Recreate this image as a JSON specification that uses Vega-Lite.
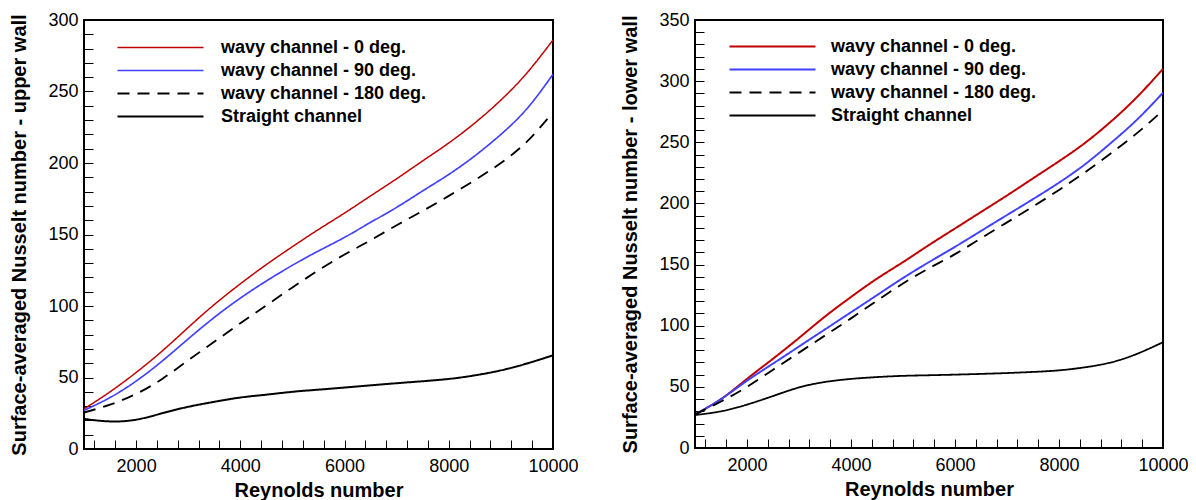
{
  "$schema": "https://vega.github.io/schema/vega-lite/v6.json",
  "background": "white",
  "padding": {"left": 8, "top": 10, "right": 5, "bottom": 0},
  "spacing": 39,
  "config": {
    "font": "Liberation Sans",
    "view": {"stroke": "black", "strokeWidth": 2},
    "axis": {
      "domain": false,
      "grid": false,
      "ticks": true,
      "tickColor": "black",
      "tickSize": -9,
      "labelFont": "Liberation Sans",
      "labelFontSize": 18,
      "labelColor": "black",
      "labelOverlap": false,
      "labelFlush": false,
      "titleFont": "Liberation Sans",
      "titleFontSize": 20,
      "titleFontWeight": "bold",
      "titleColor": "black"
    },
    "legend": {
      "labelFont": "Liberation Sans",
      "labelFontSize": 18,
      "labelFontWeight": "bold",
      "labelColor": "black",
      "labelLimit": 400
    }
  },
  "resolve": {"scale": {"color": "independent", "strokeDash": "independent", "strokeWidth": "independent"}, "legend": {"color": "independent", "strokeDash": "independent", "strokeWidth": "independent"}},
  "datasets": {
    "upper": [
      {"Re": 1000, "s": "wavy channel - 0 deg.", "Nu": 28},
      {"Re": 1500, "s": "wavy channel - 0 deg.", "Nu": 40},
      {"Re": 2000, "s": "wavy channel - 0 deg.", "Nu": 53.5},
      {"Re": 2500, "s": "wavy channel - 0 deg.", "Nu": 68.5},
      {"Re": 3000, "s": "wavy channel - 0 deg.", "Nu": 85},
      {"Re": 3500, "s": "wavy channel - 0 deg.", "Nu": 101},
      {"Re": 4000, "s": "wavy channel - 0 deg.", "Nu": 115.5},
      {"Re": 4500, "s": "wavy channel - 0 deg.", "Nu": 129},
      {"Re": 5000, "s": "wavy channel - 0 deg.", "Nu": 141.5},
      {"Re": 5500, "s": "wavy channel - 0 deg.", "Nu": 153.5},
      {"Re": 6000, "s": "wavy channel - 0 deg.", "Nu": 165},
      {"Re": 6500, "s": "wavy channel - 0 deg.", "Nu": 177},
      {"Re": 7000, "s": "wavy channel - 0 deg.", "Nu": 189},
      {"Re": 7500, "s": "wavy channel - 0 deg.", "Nu": 201.5},
      {"Re": 8000, "s": "wavy channel - 0 deg.", "Nu": 214},
      {"Re": 8500, "s": "wavy channel - 0 deg.", "Nu": 228},
      {"Re": 9000, "s": "wavy channel - 0 deg.", "Nu": 244},
      {"Re": 9500, "s": "wavy channel - 0 deg.", "Nu": 263},
      {"Re": 10000, "s": "wavy channel - 0 deg.", "Nu": 286},
      {"Re": 1000, "s": "wavy channel - 90 deg.", "Nu": 27},
      {"Re": 1500, "s": "wavy channel - 90 deg.", "Nu": 36},
      {"Re": 2000, "s": "wavy channel - 90 deg.", "Nu": 47.5},
      {"Re": 2500, "s": "wavy channel - 90 deg.", "Nu": 61.5},
      {"Re": 3000, "s": "wavy channel - 90 deg.", "Nu": 77},
      {"Re": 3500, "s": "wavy channel - 90 deg.", "Nu": 92},
      {"Re": 4000, "s": "wavy channel - 90 deg.", "Nu": 105.5},
      {"Re": 4500, "s": "wavy channel - 90 deg.", "Nu": 117.5},
      {"Re": 5000, "s": "wavy channel - 90 deg.", "Nu": 128.5},
      {"Re": 5500, "s": "wavy channel - 90 deg.", "Nu": 138.5},
      {"Re": 6000, "s": "wavy channel - 90 deg.", "Nu": 148},
      {"Re": 6500, "s": "wavy channel - 90 deg.", "Nu": 158.5},
      {"Re": 7000, "s": "wavy channel - 90 deg.", "Nu": 169},
      {"Re": 7500, "s": "wavy channel - 90 deg.", "Nu": 180.5},
      {"Re": 8000, "s": "wavy channel - 90 deg.", "Nu": 192},
      {"Re": 8500, "s": "wavy channel - 90 deg.", "Nu": 205},
      {"Re": 9000, "s": "wavy channel - 90 deg.", "Nu": 220},
      {"Re": 9500, "s": "wavy channel - 90 deg.", "Nu": 238},
      {"Re": 10000, "s": "wavy channel - 90 deg.", "Nu": 262},
      {"Re": 1000, "s": "wavy channel - 180 deg.", "Nu": 25.5},
      {"Re": 1500, "s": "wavy channel - 180 deg.", "Nu": 31},
      {"Re": 2000, "s": "wavy channel - 180 deg.", "Nu": 38.5},
      {"Re": 2500, "s": "wavy channel - 180 deg.", "Nu": 49},
      {"Re": 3000, "s": "wavy channel - 180 deg.", "Nu": 62},
      {"Re": 3500, "s": "wavy channel - 180 deg.", "Nu": 75},
      {"Re": 4000, "s": "wavy channel - 180 deg.", "Nu": 88},
      {"Re": 4500, "s": "wavy channel - 180 deg.", "Nu": 100.5},
      {"Re": 5000, "s": "wavy channel - 180 deg.", "Nu": 113},
      {"Re": 5500, "s": "wavy channel - 180 deg.", "Nu": 125},
      {"Re": 6000, "s": "wavy channel - 180 deg.", "Nu": 136},
      {"Re": 6500, "s": "wavy channel - 180 deg.", "Nu": 146},
      {"Re": 7000, "s": "wavy channel - 180 deg.", "Nu": 156.5},
      {"Re": 7500, "s": "wavy channel - 180 deg.", "Nu": 166.5},
      {"Re": 8000, "s": "wavy channel - 180 deg.", "Nu": 177},
      {"Re": 8500, "s": "wavy channel - 180 deg.", "Nu": 188},
      {"Re": 9000, "s": "wavy channel - 180 deg.", "Nu": 200},
      {"Re": 9500, "s": "wavy channel - 180 deg.", "Nu": 215},
      {"Re": 10000, "s": "wavy channel - 180 deg.", "Nu": 235.5},
      {"Re": 1000, "s": "Straight channel", "Nu": 21},
      {"Re": 1500, "s": "Straight channel", "Nu": 19.3},
      {"Re": 2000, "s": "Straight channel", "Nu": 20.5},
      {"Re": 2500, "s": "Straight channel", "Nu": 25},
      {"Re": 3000, "s": "Straight channel", "Nu": 29.5},
      {"Re": 3500, "s": "Straight channel", "Nu": 33},
      {"Re": 4000, "s": "Straight channel", "Nu": 36},
      {"Re": 4500, "s": "Straight channel", "Nu": 38},
      {"Re": 5000, "s": "Straight channel", "Nu": 40},
      {"Re": 5500, "s": "Straight channel", "Nu": 41.5},
      {"Re": 6000, "s": "Straight channel", "Nu": 43},
      {"Re": 6500, "s": "Straight channel", "Nu": 44.5},
      {"Re": 7000, "s": "Straight channel", "Nu": 46},
      {"Re": 7500, "s": "Straight channel", "Nu": 47.4},
      {"Re": 8000, "s": "Straight channel", "Nu": 49},
      {"Re": 8500, "s": "Straight channel", "Nu": 51.5},
      {"Re": 9000, "s": "Straight channel", "Nu": 55},
      {"Re": 9500, "s": "Straight channel", "Nu": 59.8},
      {"Re": 10000, "s": "Straight channel", "Nu": 65.5}
    ],
    "lower": [
      {"Re": 1000, "s": "wavy channel - 0 deg.", "Nu": 27.5},
      {"Re": 1500, "s": "wavy channel - 0 deg.", "Nu": 40},
      {"Re": 2000, "s": "wavy channel - 0 deg.", "Nu": 56.5},
      {"Re": 2500, "s": "wavy channel - 0 deg.", "Nu": 73},
      {"Re": 3000, "s": "wavy channel - 0 deg.", "Nu": 90},
      {"Re": 3500, "s": "wavy channel - 0 deg.", "Nu": 107.5},
      {"Re": 4000, "s": "wavy channel - 0 deg.", "Nu": 123.5},
      {"Re": 4500, "s": "wavy channel - 0 deg.", "Nu": 138.5},
      {"Re": 5000, "s": "wavy channel - 0 deg.", "Nu": 152},
      {"Re": 5500, "s": "wavy channel - 0 deg.", "Nu": 166},
      {"Re": 6000, "s": "wavy channel - 0 deg.", "Nu": 179.5},
      {"Re": 6500, "s": "wavy channel - 0 deg.", "Nu": 193},
      {"Re": 7000, "s": "wavy channel - 0 deg.", "Nu": 206.5},
      {"Re": 7500, "s": "wavy channel - 0 deg.", "Nu": 220.5},
      {"Re": 8000, "s": "wavy channel - 0 deg.", "Nu": 234.5},
      {"Re": 8500, "s": "wavy channel - 0 deg.", "Nu": 249.5},
      {"Re": 9000, "s": "wavy channel - 0 deg.", "Nu": 267},
      {"Re": 9500, "s": "wavy channel - 0 deg.", "Nu": 287},
      {"Re": 10000, "s": "wavy channel - 0 deg.", "Nu": 310},
      {"Re": 1000, "s": "wavy channel - 90 deg.", "Nu": 27.5},
      {"Re": 1500, "s": "wavy channel - 90 deg.", "Nu": 40},
      {"Re": 2000, "s": "wavy channel - 90 deg.", "Nu": 55},
      {"Re": 2500, "s": "wavy channel - 90 deg.", "Nu": 69},
      {"Re": 3000, "s": "wavy channel - 90 deg.", "Nu": 83},
      {"Re": 3500, "s": "wavy channel - 90 deg.", "Nu": 97},
      {"Re": 4000, "s": "wavy channel - 90 deg.", "Nu": 111},
      {"Re": 4500, "s": "wavy channel - 90 deg.", "Nu": 125},
      {"Re": 5000, "s": "wavy channel - 90 deg.", "Nu": 139},
      {"Re": 5500, "s": "wavy channel - 90 deg.", "Nu": 152},
      {"Re": 6000, "s": "wavy channel - 90 deg.", "Nu": 164.5},
      {"Re": 6500, "s": "wavy channel - 90 deg.", "Nu": 177.5},
      {"Re": 7000, "s": "wavy channel - 90 deg.", "Nu": 190.5},
      {"Re": 7500, "s": "wavy channel - 90 deg.", "Nu": 203.5},
      {"Re": 8000, "s": "wavy channel - 90 deg.", "Nu": 217},
      {"Re": 8500, "s": "wavy channel - 90 deg.", "Nu": 232},
      {"Re": 9000, "s": "wavy channel - 90 deg.", "Nu": 249.5},
      {"Re": 9500, "s": "wavy channel - 90 deg.", "Nu": 268.5},
      {"Re": 10000, "s": "wavy channel - 90 deg.", "Nu": 290.5},
      {"Re": 1000, "s": "wavy channel - 180 deg.", "Nu": 27.5},
      {"Re": 1500, "s": "wavy channel - 180 deg.", "Nu": 38},
      {"Re": 2000, "s": "wavy channel - 180 deg.", "Nu": 50},
      {"Re": 2500, "s": "wavy channel - 180 deg.", "Nu": 64},
      {"Re": 3000, "s": "wavy channel - 180 deg.", "Nu": 78},
      {"Re": 3500, "s": "wavy channel - 180 deg.", "Nu": 92},
      {"Re": 4000, "s": "wavy channel - 180 deg.", "Nu": 106},
      {"Re": 4500, "s": "wavy channel - 180 deg.", "Nu": 120.5},
      {"Re": 5000, "s": "wavy channel - 180 deg.", "Nu": 134.5},
      {"Re": 5500, "s": "wavy channel - 180 deg.", "Nu": 147},
      {"Re": 6000, "s": "wavy channel - 180 deg.", "Nu": 158.5},
      {"Re": 6500, "s": "wavy channel - 180 deg.", "Nu": 171.5},
      {"Re": 7000, "s": "wavy channel - 180 deg.", "Nu": 184.5},
      {"Re": 7500, "s": "wavy channel - 180 deg.", "Nu": 197.5},
      {"Re": 8000, "s": "wavy channel - 180 deg.", "Nu": 211},
      {"Re": 8500, "s": "wavy channel - 180 deg.", "Nu": 225.5},
      {"Re": 9000, "s": "wavy channel - 180 deg.", "Nu": 241},
      {"Re": 9500, "s": "wavy channel - 180 deg.", "Nu": 257.5},
      {"Re": 10000, "s": "wavy channel - 180 deg.", "Nu": 276},
      {"Re": 1000, "s": "Straight channel", "Nu": 27},
      {"Re": 1500, "s": "Straight channel", "Nu": 30},
      {"Re": 2000, "s": "Straight channel", "Nu": 35.5},
      {"Re": 2500, "s": "Straight channel", "Nu": 42.5},
      {"Re": 3000, "s": "Straight channel", "Nu": 49.5},
      {"Re": 3500, "s": "Straight channel", "Nu": 54},
      {"Re": 4000, "s": "Straight channel", "Nu": 56.5},
      {"Re": 4500, "s": "Straight channel", "Nu": 58},
      {"Re": 5000, "s": "Straight channel", "Nu": 59},
      {"Re": 5500, "s": "Straight channel", "Nu": 59.5},
      {"Re": 6000, "s": "Straight channel", "Nu": 60},
      {"Re": 6500, "s": "Straight channel", "Nu": 60.6},
      {"Re": 7000, "s": "Straight channel", "Nu": 61.3},
      {"Re": 7500, "s": "Straight channel", "Nu": 62.2},
      {"Re": 8000, "s": "Straight channel", "Nu": 63.5},
      {"Re": 8500, "s": "Straight channel", "Nu": 66},
      {"Re": 9000, "s": "Straight channel", "Nu": 70},
      {"Re": 9500, "s": "Straight channel", "Nu": 77},
      {"Re": 10000, "s": "Straight channel", "Nu": 86.5}
    ]
  },
  "hconcat": [
    {
      "width": 469,
      "height": 429,
      "data": {"name": "upper"},
      "mark": {"type": "line", "interpolate": "natural", "clip": true},
      "encoding": {
        "x": {
          "field": "Re", "type": "quantitative",
          "scale": {"domain": [1000, 10000], "nice": false, "zero": false},
          "axis": {
            "title": "Reynolds number",
            "values": [1200, 1600, 2000, 2400, 2800, 3200, 3600, 4000, 4400, 4800, 5200, 5600, 6000, 6400, 6800, 7200, 7600, 8000, 8400, 8800, 9200, 9600, 10000],
            "labelExpr": "datum.value % 2000 === 0 ? datum.label : ''",
            "format": "d",
            "labelPadding": 17,
            "titlePadding": 5,
            "encode": {"ticks": {"update": {"y2": {"signal": "datum.value % 2000 === 0 ? -9 : -5"}, "strokeWidth": {"signal": "datum.value % 2000 === 0 ? 2 : 1"}}}}
          }
        },
        "y": {
          "field": "Nu", "type": "quantitative",
          "scale": {"domain": [0, 300], "nice": false},
          "axis": {
            "title": "Surface-averaged Nusselt number - upper wall",
            "values": [0, 10, 20, 30, 40, 50, 60, 70, 80, 90, 100, 110, 120, 130, 140, 150, 160, 170, 180, 190, 200, 210, 220, 230, 240, 250, 260, 270, 280, 290, 300],
            "labelExpr": "datum.value % 50 === 0 ? datum.label : ''",
            "labelPadding": 15,
            "titlePadding": 18,
            "encode": {"ticks": {"update": {"x2": {"signal": "datum.value % 50 === 0 ? 9 : 5"}, "strokeWidth": {"signal": "datum.value % 50 === 0 ? 2 : 1"}}}}
          }
        },
        "color": {
          "field": "s", "type": "nominal",
          "scale": {"domain": ["wavy channel - 0 deg.", "wavy channel - 90 deg.", "wavy channel - 180 deg.", "Straight channel"], "range": ["#c00000", "#4040ff", "#000000", "#000000"]},
          "legend": {"title": null, "orient": "none", "legendX": 32, "legendY": 16, "direction": "vertical", "symbolType": "stroke", "symbolSize": 7400, "clipHeight": 23, "rowPadding": 0, "padding": 0, "labelOffset": 16, "labelLimit": 400}
        },
        "strokeDash": {
          "field": "s", "type": "nominal",
          "scale": {"domain": ["wavy channel - 0 deg.", "wavy channel - 90 deg.", "wavy channel - 180 deg.", "Straight channel"], "range": [[1, 0], [1, 0], [12, 8], [1, 0]]}
        },
        "strokeWidth": {
          "field": "s", "type": "nominal",
          "scale": {"domain": ["wavy channel - 0 deg.", "wavy channel - 90 deg.", "wavy channel - 180 deg.", "Straight channel"], "range": [1.5, 2, 1.8, 2.5]}
        }
      }
    },
    {
      "width": 468,
      "height": 428,
      "data": {"name": "lower"},
      "mark": {"type": "line", "interpolate": "natural", "clip": true},
      "encoding": {
        "x": {
          "field": "Re", "type": "quantitative",
          "scale": {"domain": [1000, 10000], "nice": false, "zero": false},
          "axis": {
            "title": "Reynolds number",
            "values": [1200, 1600, 2000, 2400, 2800, 3200, 3600, 4000, 4400, 4800, 5200, 5600, 6000, 6400, 6800, 7200, 7600, 8000, 8400, 8800, 9200, 9600, 10000],
            "labelExpr": "datum.value % 2000 === 0 ? datum.label : ''",
            "format": "d",
            "labelPadding": 17,
            "titlePadding": 5,
            "encode": {"ticks": {"update": {"y2": {"signal": "datum.value % 2000 === 0 ? -9 : -5"}, "strokeWidth": {"signal": "datum.value % 2000 === 0 ? 2 : 1"}}}}
          }
        },
        "y": {
          "field": "Nu", "type": "quantitative",
          "scale": {"domain": [0, 350], "nice": false},
          "axis": {
            "title": "Surface-averaged Nusselt number - lower wall",
            "values": [0, 10, 20, 30, 40, 50, 60, 70, 80, 90, 100, 110, 120, 130, 140, 150, 160, 170, 180, 190, 200, 210, 220, 230, 240, 250, 260, 270, 280, 290, 300, 310, 320, 330, 340, 350],
            "labelExpr": "datum.value % 50 === 0 ? datum.label : ''",
            "labelPadding": 15,
            "titlePadding": 18,
            "encode": {"ticks": {"update": {"x2": {"signal": "datum.value % 50 === 0 ? 9 : 5"}, "strokeWidth": {"signal": "datum.value % 50 === 0 ? 2 : 1"}}}}
          }
        },
        "color": {
          "field": "s", "type": "nominal",
          "scale": {"domain": ["wavy channel - 0 deg.", "wavy channel - 90 deg.", "wavy channel - 180 deg.", "Straight channel"], "range": ["#c00000", "#4040ff", "#000000", "#000000"]},
          "legend": {"title": null, "orient": "none", "legendX": 33, "legendY": 15, "direction": "vertical", "symbolType": "stroke", "symbolSize": 7400, "clipHeight": 23, "rowPadding": 0, "padding": 0, "labelOffset": 14, "labelLimit": 400}
        },
        "strokeDash": {
          "field": "s", "type": "nominal",
          "scale": {"domain": ["wavy channel - 0 deg.", "wavy channel - 90 deg.", "wavy channel - 180 deg.", "Straight channel"], "range": [[1, 0], [1, 0], [12, 8], [1, 0]]}
        },
        "strokeWidth": {
          "field": "s", "type": "nominal",
          "scale": {"domain": ["wavy channel - 0 deg.", "wavy channel - 90 deg.", "wavy channel - 180 deg.", "Straight channel"], "range": [2, 1.8, 1.8, 2.5]}
        }
      }
    }
  ]
}
